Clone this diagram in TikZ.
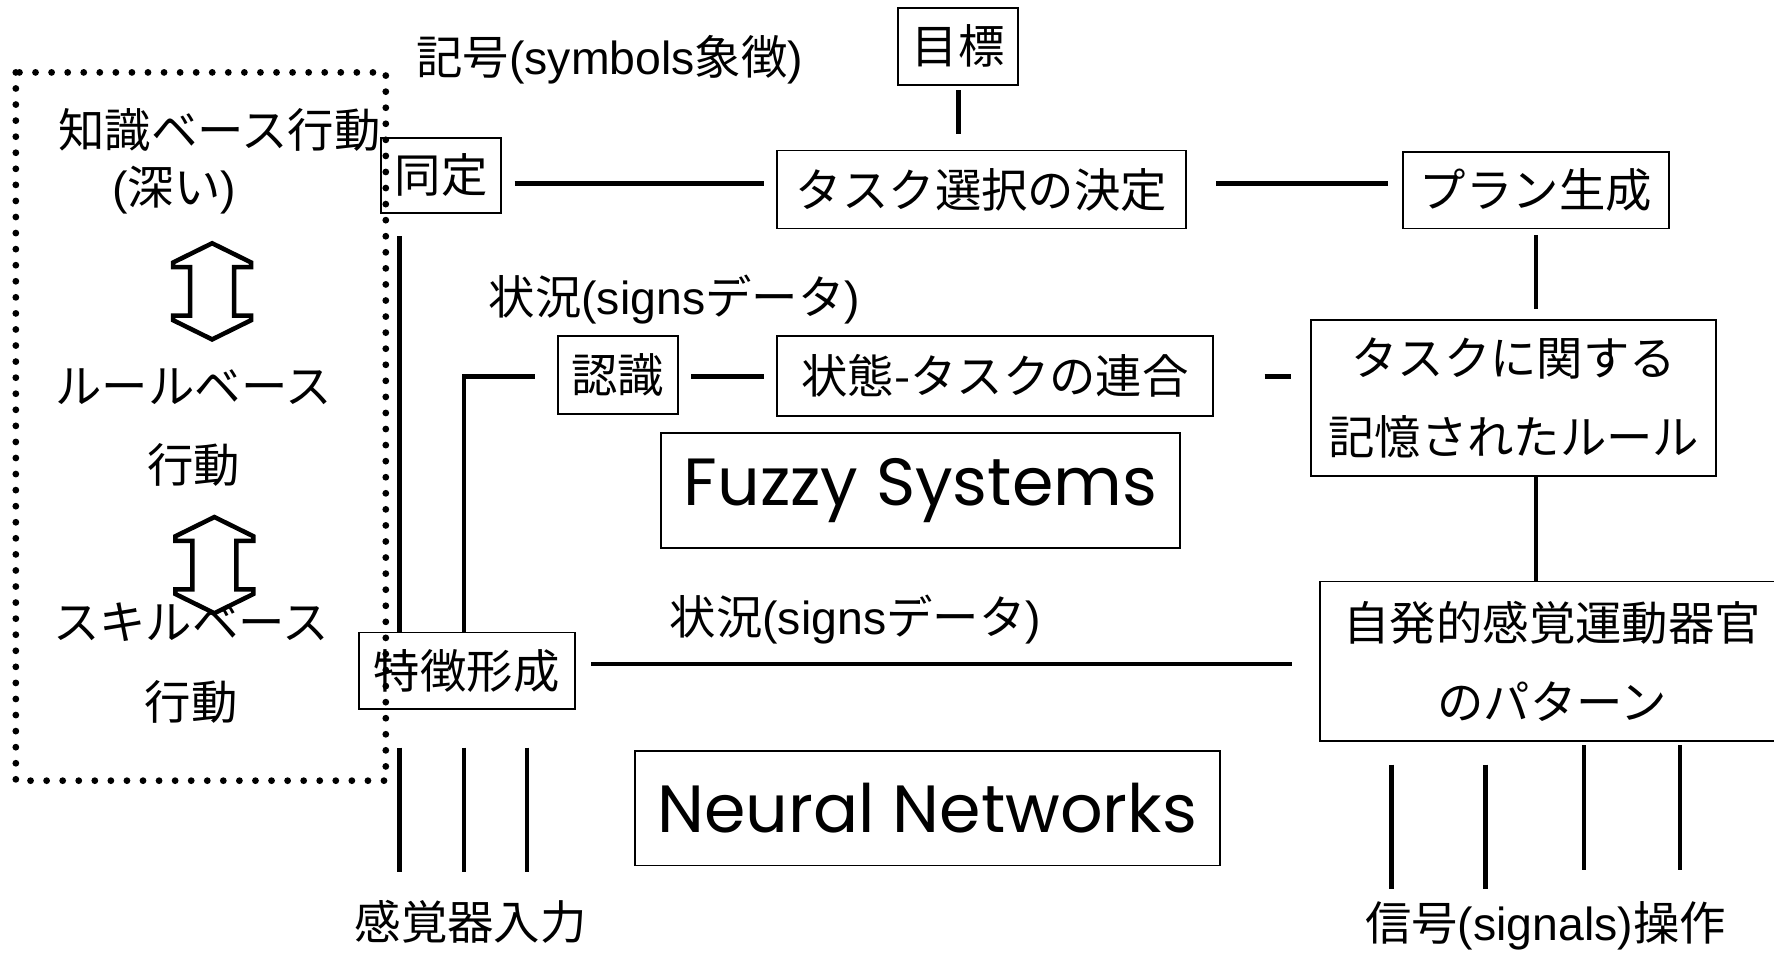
\documentclass[tikz,border=0pt]{standalone}
\usepackage{fontspec}
\setmainfont{Noto Sans CJK JP}
\newfontfamily\latfont{Liberation Sans}
\newfontfamily\comicfont{Poppins}
\newcommand{\latn}[1]{{\latfont #1}}
\usetikzlibrary{calc}

\tikzset{
  dblarrow/.pic={
    \draw[line width=2pt, line join=miter] (0,0) -- (34.5,17) -- (34.5,21) -- (19.5,21) -- (19.5,64)
      -- (34.5,64) -- (34.5,68) -- (0,85) -- (-34.5,68) -- (-34.5,64) -- (-19.5,64)
      -- (-19.5,21) -- (-34.5,21) -- (-34.5,17) -- cycle;
  }
}

\begin{document}
\begin{tikzpicture}[x=0.5pt, y=-0.5pt,
		font=\fontsize{20.5}{35}\selectfont,
		box/.style={draw, line width=0.8pt, inner sep=0pt},
		big box/.style={box, font=\comicfont\fontsize{29.5}{35}\selectfont, minimum width=#1, minimum height=50.5pt},
		conn/.style={line width=2pt},
		dotted frame/.style={line width=3pt, line cap=round, dash pattern=on 0pt off 7.1pt}
		]
		\useasboundingbox (0,0) rectangle (1568,842);
		
		% boxes
		\node[box, minimum width=53pt, minimum height=34pt] (goal) at (847,41) {目標};
		\node[box, minimum width=53pt, minimum height=33pt] (ident) at (390,155) {同定};
		\node[box, minimum width=180.5pt, minimum height=34.5pt] (taskselect) at (867.5,167.5) {タスク選択の決定};
		\node[box, minimum width=117.5pt, minimum height=34pt] (plan) at (1357.5,168) {プラン生成};
		\node[box, minimum width=53pt, minimum height=34.5pt] (recog) at (546,331.5) {認識};
		\node[box, minimum width=192.5pt, minimum height=35.5pt] (assoc) at (879.5,332.5) {状態-タスクの連合};
		\node[box, minimum width=179pt, minimum height=69pt, align=center] (rules) at (1338,352) {タスクに関する\\記憶されたルール};
		\node[big box=229.5pt] (fuzzy) at (813.5,433.5) {Fuzzy Systems};
		\node[box, minimum width=95.5pt, minimum height=34pt] (feature) at (412.5,593) {特徴形成};
		\node[box, minimum width=205pt, minimum height=70.5pt, align=center] (pattern) at (1372,584.5) {自発的感覚運動器官\\のパターン};
		\node[big box=258.5pt] (neural) at (819.5,714.5) {Neural Networks};
		
		% labels
		\node (symbols) at (539,53) {記号\latn{(symbols}象徴\latn{)}};
		\node (knowledge) at (194,115) {知識ベース行動};
		\node (deep) at (154,168) {\latn{(}深い\latn{)}};
		\node (rule) at (171,342) {ルールベース};
		\node (rulebeh) at (171,411) {行動};
		\node (skill) at (169,550) {スキルベース};
		\node (skillbeh) at (169,620) {行動};
		\node (situp) at (596,265) {状況\latn{(signs}データ\latn{)}};
		\node (sitlow) at (756,548) {状況\latn{(signs}データ\latn{)}};
		\node (sensor) at (416,815) {感覚器入力};
		\node (signal) at (1366,818) {信号\latn{(signals)}操作};
		
		\draw[dotted frame] (14,64) rectangle (341,690);
		\pic at (187.5,215) {dblarrow};
		\pic at (189.5,457) {dblarrow};
		
		% connectors
		\draw[conn] ([yshift=-2pt]goal.south) -- ([yshift=7pt]goal.south |- taskselect.north);
		\draw[conn] ($(ident.east)+(11,7)$) -- ($(taskselect.west)+(-11,-5.5)$);
		\draw[conn] ($(taskselect.east)+(26,-5.5)$) -- ($(plan.west)+(-12,-6)$);
		\draw[conn] ($(plan.south)+(0,5)$) -- ($(plan.south |- rules.north)+(0,-9)$);
		\draw[conn] (plan.south |- rules.south) -- (plan.south |- pattern.north);
		\coordinate (leftbus) at ($(ident.south)+(-37,20)$);
		\draw[conn] (leftbus) -- (leftbus |- feature.north);
		\draw[conn] ($(feature.north)+(-2.5,0)$) |- ($(recog.west)+(-19,1.5)$);
		\draw[conn] ($(recog.east)+(11,1.5)$) -- ($(assoc.west)+(-11,0.5)$);
		\draw[conn] ($(assoc.east)+(45,0.5)$) -- ($(rules.west)+(-17,-19)$);
		\draw[conn] ($(feature.east)+(14,-6)$) -- ($(pattern.west)+(-24,2.5)$);
		\foreach \dx in {-59.5,-2.5,53.5}
			\draw[conn] ($(feature.south)+(\dx,33)$) -- ++(0,110);
		\foreach \dx/\dy in {-142/20,-59/20,28/3,113/3}
			\draw[conn] ($(pattern.south)+(\dx,\dy)$) -- ++(0,110);
	\end{tikzpicture}
\end{document}
